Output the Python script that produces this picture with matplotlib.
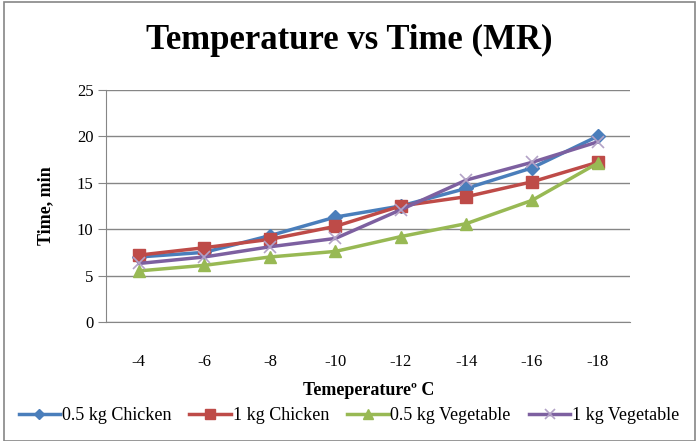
import numpy as np
import matplotlib
matplotlib.use('Agg')
import matplotlib.pyplot as plt
from matplotlib.patches import Rectangle

# Datos
temps = ['-4', '-6', '-8', '-10', '-12', '-14', '-16', '-18']
pollo_05 = [7.0, 7.5, 9.3, 11.3, 12.5, 14.4, 16.6, 20.0]
pollo_1 = [7.2, 8.0, 8.9, 10.3, 12.5, 13.5, 15.1, 17.2]
verdura_05 = [5.5, 6.1, 7.0, 7.6, 9.2, 10.6, 13.1, 17.1]
verdura_1 = [6.3, 7.0, 8.1, 9.0, 12.1, 15.3, 17.2, 19.4]

plt.rcParams['font.family'] = ['Liberation Serif', 'DejaVu Serif']

fig = plt.figure(figsize=(6.98, 4.41), dpi=100)
ax = fig.add_axes([0.152, 0.270, 0.751, 0.526])

xx = np.arange(len(temps))
ax.plot(xx, pollo_05, color='#4A7EBB', lw=2.5, marker='D', ms=7, label='0.5 kg Chicken')
ax.plot(xx, pollo_1, color='#BE4B48', lw=2.5, marker='s', ms=9, label='1 kg Chicken')
ax.plot(xx, verdura_05, color='#98B954', lw=2.5, marker='^', ms=9, label='0.5 kg Vegetable')
ax.plot(xx, verdura_1, color='#7D60A0', lw=2.5, marker='x', ms=9, mew=1.2,
        mec='#B3A2C7', label='1 kg Vegetable')

ax.set_xlim(-0.5, len(temps) - 0.5)
ax.set_ylim(0, 25)
ax.set_yticks(np.arange(0, 26, 5))
ax.set_xticks(xx)
ax.set_xticklabels(temps)
ax.tick_params(axis='both', labelsize=12, colors='black')
ax.tick_params(axis='x', length=0, pad=23)
ax.tick_params(axis='y', length=6, color='#868686', pad=3)
ax.grid(axis='y', color='#868686', lw=1)
ax.set_axisbelow(True)
for s in ['top', 'right']:
    ax.spines[s].set_visible(False)
for s in ['left', 'bottom']:
    ax.spines[s].set_color('#868686')

ax.set_ylabel('Time, min', fontsize=13, fontweight='bold', labelpad=16)
ax.set_xlabel('Temeperature\u00ba C', fontsize=13, fontweight='bold', labelpad=9)
fig.suptitle('Temperature vs Time (MR)', fontsize=25, fontweight='bold', y=0.945)

leg = ax.legend(loc='center', bbox_to_anchor=(0.5, 0.058),
                bbox_transform=fig.transFigure, ncol=4, frameon=False,
                fontsize=13, handlelength=2.3, handletextpad=0.1,
                columnspacing=1.0, markerscale=0.75)

fig.patches.append(Rectangle((0.006, 0.0), 0.99, 0.995, transform=fig.transFigure,
                             fill=False, edgecolor='#868686', lw=1.2))

plt.savefig('out.png', dpi=100)
